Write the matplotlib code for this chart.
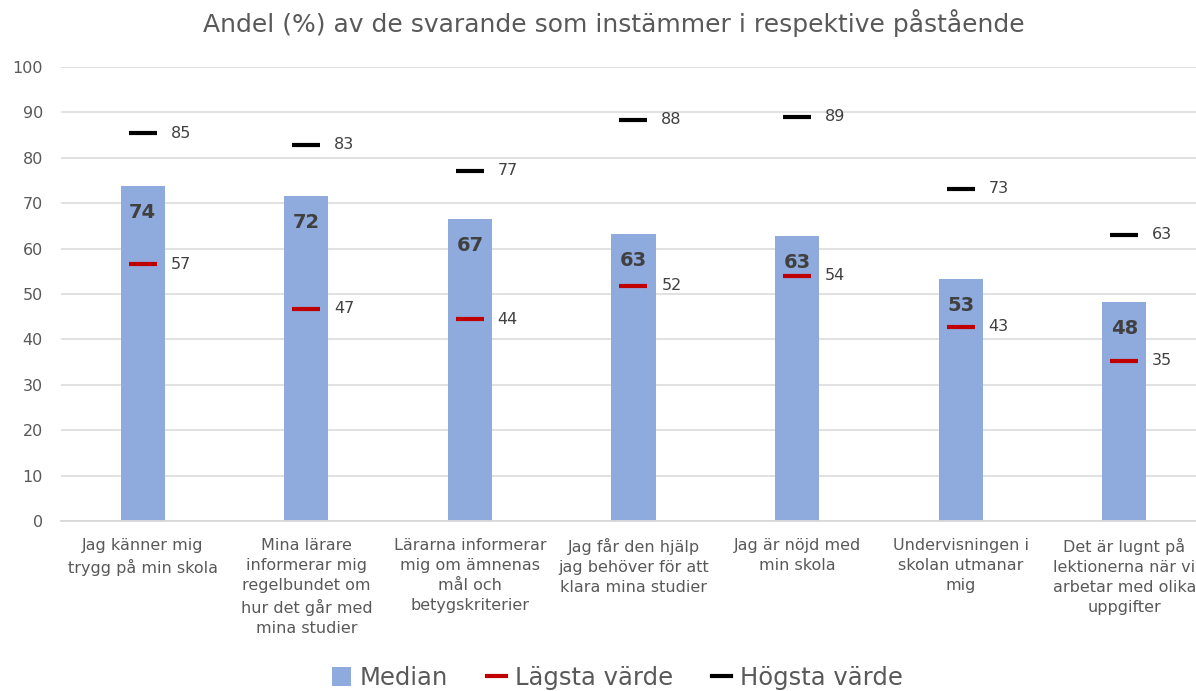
import numpy as np
import matplotlib
matplotlib.use("Agg")
import matplotlib.pyplot as plt
from matplotlib.lines import Line2D
from matplotlib.patches import Patch

plt.rcParams["font.family"] = ["DejaVu Sans"]

# survey data (percent agreeing)
categories = [
    "Jag känner mig\ntrygg på min skola",
    "Mina lärare\ninformerar mig\nregelbundet om\nhur det går med\nmina studier",
    "Lärarna informerar\nmig om ämnenas\nmål och\nbetygskriterier",
    "Jag får den hjälp\njag behöver för att\nklara mina studier",
    "Jag är nöjd med\nmin skola",
    "Undervisningen i\nskolan utmanar\nmig",
    "Det är lugnt på\nlektionerna när vi\narbetar med olika\nuppgifter",
]
median = [73.7, 71.6, 66.6, 63.3, 62.7, 53.2, 48.2]
lowest = [56.6, 46.8, 44.4, 51.8, 54.0, 42.8, 35.3]
highest = [85.4, 82.9, 77.2, 88.4, 89.0, 73.2, 63.1]
yticks = np.arange(0, 101, 10)

title = "Andel (%) av de svarande som instämmer i respektive påstående"

txt = "#404040"
tickc = "#595959"
bar_c = "#8FAADC"
low_c = "#C00000"
high_c = "black"

fig = plt.figure(figsize=(11.96, 6.91), dpi=100)
ax = fig.add_axes([61 / 1196, 170 / 691, 1145 / 1196, 454 / 691])

x = np.arange(len(categories))
ax.bar(x, median, width=0.27, color=bar_c, zorder=2)
ax.plot(x, lowest, linestyle="none", marker="_", markersize=19.5, markeredgewidth=3,
        color=low_c, zorder=3)
ax.plot(x, highest, linestyle="none", marker="_", markersize=19.5, markeredgewidth=3,
        color=high_c, zorder=3)

for xi, m, lo, hi in zip(x, median, lowest, highest):
    ax.annotate(f"{m:.0f}", (xi, m), xytext=(0, -19), textcoords="offset points",
                ha="center", va="center", fontsize=14, fontweight="bold", color=txt, zorder=4)
    ax.annotate(f"{lo:.0f}", (xi, lo), xytext=(20, 0), textcoords="offset points",
                ha="left", va="center", fontsize=11.5, color=txt, zorder=4)
    ax.annotate(f"{hi:.0f}", (xi, hi), xytext=(20, 0), textcoords="offset points",
                ha="left", va="center", fontsize=11.5, color=txt, zorder=4)

ax.set_xlim(-0.5, len(categories) - 0.5)
ax.set_ylim(0, 100)
ax.set_yticks(yticks)
ax.set_xticks(x)
ax.set_xticklabels(categories, fontsize=11.5, color=tickc, linespacing=1.42)
ax.tick_params(axis="y", length=0, pad=13, labelsize=11.5, labelcolor=tickc)
ax.tick_params(axis="x", length=0, pad=12)
ax.grid(axis="y", color="#D9D9D9", linewidth=1.1, zorder=0)
ax.set_axisbelow(True)
for s in ["top", "right", "left"]:
    ax.spines[s].set_visible(False)
ax.spines["bottom"].set_color("#D9D9D9")
ax.spines["bottom"].set_linewidth(1.3)

fig.text(614 / 1196, 1 - 23 / 691, title, ha="center", va="center", fontsize=18, color=tickc)

handles = [
    Patch(facecolor=bar_c, label="Median"),
    Line2D([], [], color=low_c, linewidth=3, label="Lägsta värde"),
    Line2D([], [], color=high_c, linewidth=3, label="Högsta värde"),
]
fig.legend(handles=handles, loc="center", bbox_to_anchor=(617 / 1196, 13 / 691),
           ncol=3, frameon=False, fontsize=17.5, labelcolor=tickc, handlelength=0.8,
           handleheight=0.8, columnspacing=1.6, handletextpad=0.35)

fig.savefig("out.png", dpi=100)
